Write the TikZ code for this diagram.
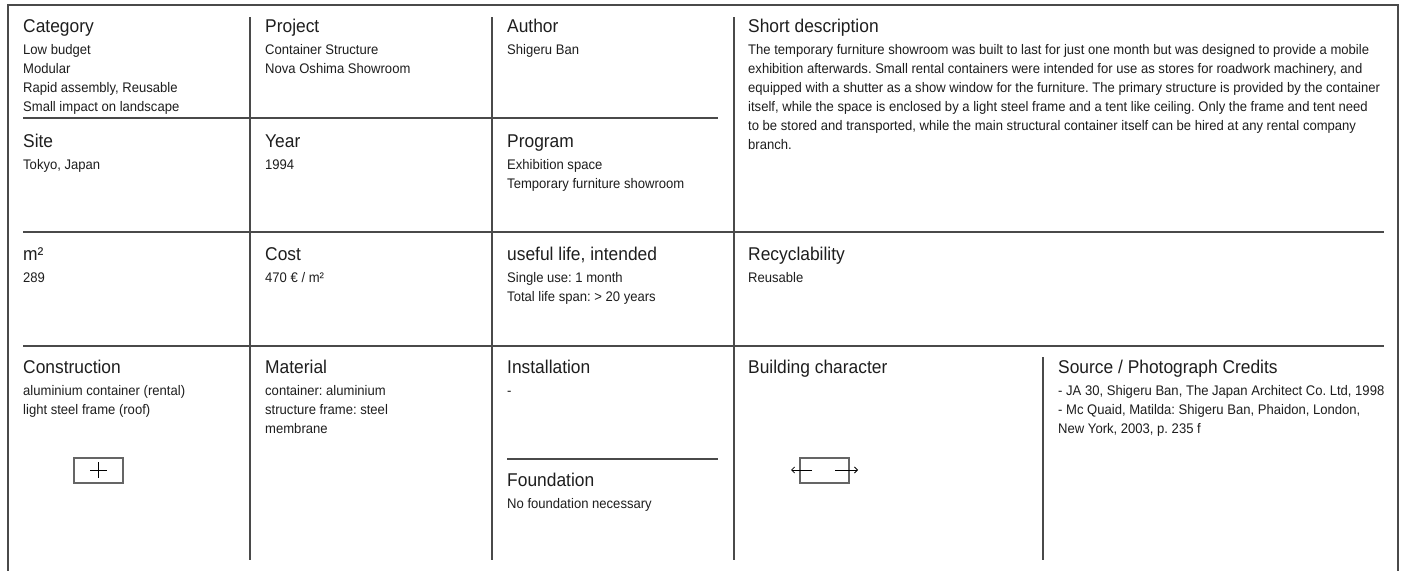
\documentclass[tikz,border=0pt]{standalone}
\usepackage{fontspec}
\setmainfont{Liberation Sans}[FakeStretch=0.94]
\usetikzlibrary{arrows.meta}
\frenchspacing
\definecolor{ink}{HTML}{1E1E1E}
\definecolor{rule}{HTML}{4A4A4A}
\newcommand{\hdfont}{\fontsize{18.5}{22}\selectfont}
\newcommand{\bdfont}{\fontsize{13.9}{19}\selectfont}
\tikzset{
  head/.style={anchor=base west, inner sep=0pt, text=ink, font=\hdfont},
  body/.style={anchor=base west, inner sep=0pt, text=ink, font=\bdfont},
  gridline/.style={draw=rule, line width=1.4pt},
  symbox/.style={draw=rule!85, line width=1.3pt},
  symline/.style={draw=black, line width=0.8pt}
}
% one header plus its body lines; #1 name, #2 x, #3 header baseline, #4 header, #5 lines
\newcommand{\cell}[5]{%
  \node[head] (#1) at (#2,#3) {#4};
  \foreach \t [count=\i from 0] in {#5}
    \node[body] (#1-\i) at (#2,#3+22+19*\i) {\t};
}
\begin{document}
\begin{tikzpicture}[x=1pt,y=-1pt]
\useasboundingbox (0,0) rectangle (1407,570);
\clip (0,0) rectangle (1407,570);
\fill[white] (0,0) rectangle (1407,570);

% outer frame (open at the bottom edge)
\draw[gridline] (8,580) -- (8,5) -- (1398,5) -- (1398,580);

% column rules
\draw[gridline] (250,17) -- (250,560);
\draw[gridline] (492,17) -- (492,560);
\draw[gridline] (734,17) -- (734,560);
\draw[gridline] (1043,357) -- (1043,560);

% row rules
\draw[gridline] (23,118) -- (718,118);
\draw[gridline] (23,232) -- (1384,232);
\draw[gridline] (23,346) -- (1384,346);
\draw[gridline] (507,459) -- (718,459);

% first row
\cell{cat}{23}{32}{Category}{Low budget, Modular, {Rapid assembly, Reusable}, Small impact on landscape}
\cell{proj}{265}{32}{Project}{Container Structure, Nova Oshima Showroom}
\cell{auth}{507}{32}{Author}{Shigeru Ban}
\cell{desc}{748}{32}{Short description}{%
  The temporary furniture showroom was built to last for just one month but was designed to provide a mobile,
  {exhibition afterwards. Small rental containers were intended for use as stores for roadwork machinery, and},
  equipped with a shutter as a show window for the furniture. The primary structure is provided by the container,
  {itself, while the space is enclosed by a light steel frame and a tent like ceiling. Only the frame and tent need},
  {to be stored and transported, while the main structural container itself can be hired at any rental company},
  branch.}

% second row
\cell{site}{23}{147}{Site}{{Tokyo, Japan}}
\cell{year}{265}{147}{Year}{1994}
\cell{prog}{507}{147}{Program}{Exhibition space, Temporary furniture showroom}

% third row
\cell{area}{23}{260}{m²}{289}
\cell{cost}{265}{260}{Cost}{470 € / m²}
\cell{life}{507}{260}{useful life, intended}{Single use: 1 month, Total life span: > 20 years}
\cell{recy}{748}{260}{Recyclability}{Reusable}

% fourth row
\cell{cons}{23}{373}{Construction}{aluminium container (rental), light steel frame (roof)}
\cell{mat}{265}{373}{Material}{container: aluminium, structure frame: steel, membrane}
\cell{inst}{507}{373}{Installation}{-}
\cell{found}{507}{486}{Foundation}{No foundation necessary}
\cell{char}{748}{373}{Building character}{}
\cell{src}{1058}{373}{Source / Photograph Credits}{%
  {- JA 30, Shigeru Ban, The Japan Architect Co. Ltd, 1998},
  {- Mc Quaid, Matilda: Shigeru Ban, Phaidon, London,},
  {New York, 2003, p. 235 f}}

% construction symbol: box with a cross
\draw[symbox] (74,458) rectangle (123,483);
\draw[symline] (90,470) -- (107,470);
\draw[symline] (98.5,462) -- (98.5,478);

% building character symbol: box with outward arrows
\draw[symbox] (800,458) rectangle (849,483);
\draw[symline, -{Straight Barb[length=3pt,width=6pt]}] (812,470) -- (791,470);
\draw[symline, -{Straight Barb[length=3pt,width=6pt]}] (835,470) -- (858,470);
\end{tikzpicture}
\end{document}
